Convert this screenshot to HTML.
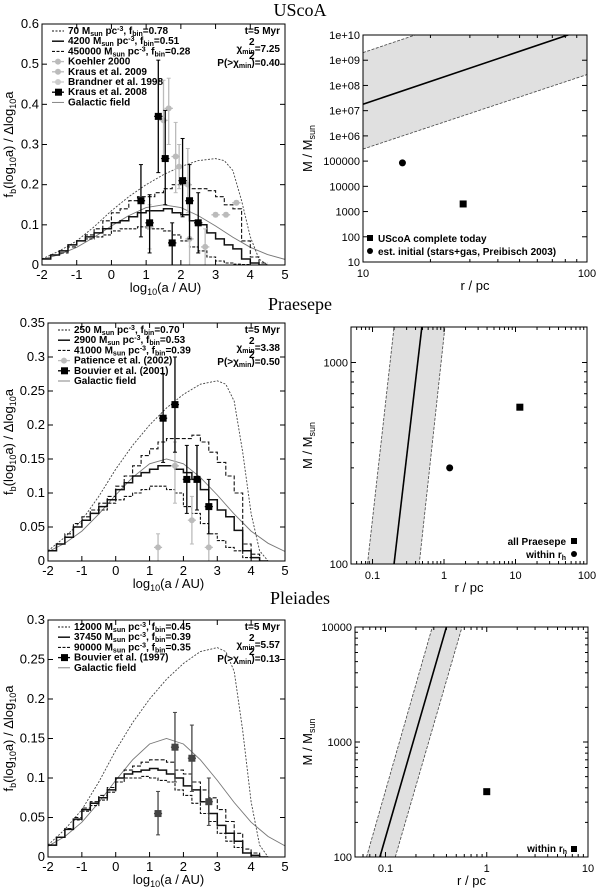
<!DOCTYPE html>
<html><head><meta charset="utf-8"><style>
html,body{margin:0;padding:0;background:#fff;}
svg{display:block;font-family:"Liberation Sans",sans-serif;}
.ttl{font-family:"Liberation Serif",serif;font-size:18px;}
.tk{font-size:13px;}
.tk2{font-size:11px;}
.lg{font-size:10px;font-weight:bold;}
.at{font-size:13px;}
</style></head><body>
<svg id="fig" width="600" height="888" viewBox="0 0 600 888">
<text class="ttl" x="300" y="16" text-anchor="middle">UScoA</text>
<text class="ttl" x="300" y="310" text-anchor="middle">Praesepe</text>
<text class="ttl" x="300" y="604" text-anchor="middle">Pleiades</text>
</svg>
<script>
// ---------- data ----------
const binStarts=[-2,-1.75,-1.5,-1.25,-1,-0.75,-0.5,-0.25,0,0.25,0.5,0.75,1,1.25,1.5,1.75,2,2.25,2.5,2.75,3,3.25,3.5,3.75,4,4.25];
const curveX=[-2,-1.5,-1,-0.5,0,0.5,1,1.5,2,2.5,3,3.25,3.5,3.75,4,4.25,4.5,5];
const initialCurve=[0.015,0.035,0.06,0.095,0.135,0.17,0.2,0.225,0.245,0.26,0.265,0.26,0.235,0.16,0.07,0.015,0,0];
const fieldX=[-2,-1.5,-1,-0.5,0,0.5,1,1.5,2,2.5,3,3.5,4,4.5,5];
const fieldCurve=[0.0137,0.026,0.044,0.069,0.097,0.123,0.143,0.15,0.143,0.123,0.097,0.069,0.044,0.026,0.014];
// UScoA
const usHiDens=[0.015,0.025,0.035,0.05,0.06,0.065,0.07,0.075,0.085,0.09,0.09,0.095,0.09,0.09,0.085,0.075,0.06,0.045,0.035,0.02,0.01,0.005,0.002,0.001,0,0];
const usMid=[0.015,0.025,0.035,0.05,0.06,0.07,0.08,0.09,0.105,0.11,0.12,0.13,0.135,0.135,0.14,0.13,0.125,0.11,0.1,0.08,0.065,0.05,0.04,0.015,0.005,0];
const usLow=[0.015,0.025,0.03,0.045,0.06,0.075,0.09,0.11,0.13,0.14,0.16,0.17,0.17,0.18,0.19,0.2,0.2,0.19,0.19,0.185,0.17,0.15,0.14,0.06,0.02,0.005];
const usK08X=[0.85,1.1,1.35,1.55,1.75,2.05,2.25,2.5];
const usK08Y=[0.16,0.105,0.37,0.265,0.055,0.21,0.16,0.105];
const usK08Hi=[0.25,0.175,0.51,0.385,0.105,0.315,0.25,0.18];
const usK08Lo=[0.07,0.03,0.23,0.15,0,0.12,0.065,0.03];
const usGreyX=[1.1,1.5,1.65,1.85,1.95,2.2,2.25,2.7,3.0,3.3,3.6];
const usGreyY=[0.095,0.36,0.39,0.27,0.245,0.2,0.065,0.045,0.125,0.125,0.155];
const usGreyHi=[0.15,0.46,0.465,0.355,0.3,0.29,0.13,0.09,0.13,0.13,0.16];
const usGreyLo=[0.04,0.26,0.3,0.18,0.19,0.13,0,0,0.12,0.12,0.15];
// Praesepe
const prHiDens=[0.015,0.025,0.035,0.05,0.06,0.07,0.075,0.085,0.09,0.095,0.1,0.105,0.11,0.11,0.105,0.1,0.08,0.07,0.055,0.04,0.03,0.02,0.015,0.005,0,0];
const prMid=[0.015,0.025,0.035,0.05,0.06,0.07,0.08,0.09,0.105,0.115,0.125,0.13,0.135,0.14,0.14,0.135,0.13,0.12,0.105,0.09,0.075,0.065,0.045,0.015,0.005,0];
const prLow=[0.015,0.025,0.04,0.055,0.065,0.075,0.085,0.095,0.11,0.125,0.14,0.155,0.165,0.175,0.18,0.18,0.18,0.185,0.175,0.16,0.145,0.125,0.1,0.025,0.01,0];
const prBX=[1.4,1.75,2.1,2.4,2.75];
const prBY=[0.21,0.23,0.12,0.12,0.08];
const prBHi=[0.275,0.3,0.17,0.17,0.12];
const prBLo=[0.145,0.16,0.07,0.075,0.04];
const prPX=[1.25,1.75,2.25,2.75];
const prPY=[0.02,0.14,0.06,0.02];
const prPHi=[0.04,0.175,0.095,0.04];
const prPLo=[0,0.085,0.025,0];
// Pleiades
const plHiDens=[0.015,0.025,0.035,0.047,0.058,0.065,0.072,0.082,0.095,0.1,0.1,0.102,0.1,0.097,0.095,0.085,0.078,0.068,0.055,0.045,0.03,0.02,0.012,0.005,0.002,0];
const plMid=[0.015,0.025,0.035,0.048,0.06,0.068,0.075,0.085,0.1,0.105,0.108,0.11,0.112,0.11,0.105,0.1,0.09,0.085,0.07,0.055,0.04,0.03,0.02,0.005,0.002,0];
const plLow=[0.015,0.025,0.036,0.05,0.062,0.07,0.078,0.088,0.1,0.11,0.115,0.12,0.123,0.123,0.12,0.11,0.105,0.095,0.085,0.075,0.06,0.045,0.03,0.01,0.005,0];
const plBX=[1.25,1.75,2.25,2.75];
const plBY=[0.055,0.139,0.125,0.07];
const plBHi=[0.083,0.183,0.167,0.1];
const plBLo=[0.028,0.095,0.083,0.04];
// right panels: line endpoints [r, M]
const usLineR=[10,100]; const usSolidM=[1.8e7,1.8e10]; const usUpM=[2e9,2e12]; const usDnM=[3e5,2.7e8];
const usSqR=[28]; const usSqM=[2000]; const usCiR=[15]; const usCiM=[85000];
const prSolidR=[0.2,0.49]; const prUpR=[0.085,0.2]; const prDnR=[0.45,1.03]; const prLineM=[100,1500];
const prSqR=[11.5]; const prSqM=[600]; const prCiR=[1.2]; const prCiM=[300];
const plSolidR=[0.088,0.4]; const plUpR=[0.065,0.29]; const plDnR=[0.125,0.57]; const plLineM=[100,10000];
const plSqR=[1]; const plSqM=[370];

// ---------- helpers ----------
const NS='http://www.w3.org/2000/svg';
const svg=document.getElementById('fig');
function el(tag,attrs,parent){const e=document.createElementNS(NS,tag);for(const k in attrs)e.setAttribute(k,attrs[k]);(parent||svg).appendChild(e);return e;}
function lin(d0,d1,p0,p1){return v=>p0+(v-d0)/(d1-d0)*(p1-p0);}
function lg(d0,d1,p0,p1){const a=Math.log10(d0),b=Math.log10(d1);return v=>p0+(Math.log10(v)-a)/(b-a)*(p1-p0);}
let clipN=0;
function clipFor(L,T,R,B){const id='c'+(clipN++);const cp=el('clipPath',{id:id});el('rect',{x:L,y:T,width:R-L,height:B-T},cp);return 'url(#'+id+')';}

function leftPanel(o){
  const X=lin(-2,5,o.L,o.R), Y=lin(0,o.ymax,o.B,o.T);
  const g=el('g',{});
  
  
  const cg=el('g',{'clip-path':clipFor(o.L,o.T,o.R,o.B)},g);
  let d='';fieldX.forEach((x,i)=>{d+=(i?'L':'M')+X(x).toFixed(1)+','+Y(fieldCurve[i]).toFixed(1);});
  const fc=el('path',{d:d,fill:'none',stroke:'#777','stroke-width':0.9},cg);
  
  
  d='';curveX.forEach((x,i)=>{d+=(i?'L':'M')+X(x).toFixed(1)+','+Y(initialCurve[i]).toFixed(1);});
  const ic=el('path',{d:d,fill:'none',stroke:'#444','stroke-width':0.9,'stroke-dasharray':'2,1.5'},cg);
  
  
  function hist(vals,dash,w,nm){
    let d='M'+X(binStarts[0])+','+Y(vals[0]);
    binStarts.forEach((b,i)=>{d+='H'+X(b+0.25).toFixed(1);if(i+1<vals.length)d+='V'+Y(vals[i+1]).toFixed(1);});
    const p=el('path',{d:d,fill:'none',stroke:'#111','stroke-width':w,'stroke-dasharray':dash},cg);
    
    
  }
  hist(o.low,'3,1.5',1.1,'histogram-low-density');
  hist(o.hi,'4,2',1.1,'histogram-high-density');
  hist(o.mid,'',1.5,'histogram-best-fit');
  function pts(xs,ys,his,los,col,shape,nm){
    xs.forEach((x,i)=>{
      const px=X(x),py=Y(ys[i]);
      const gg=el('g',{stroke:col,fill:col},cg);
      
      
      el('line',{x1:px,x2:px,y1:Y(his[i]),y2:Y(los[i]),'stroke-width':1.3},gg);
      el('line',{x1:px-2,x2:px+2,y1:Y(his[i]),y2:Y(his[i]),'stroke-width':1},gg);
      el('line',{x1:px-2,x2:px+2,y1:Y(los[i]),y2:Y(los[i]),'stroke-width':1},gg);
      el('line',{x1:X(x-0.12),x2:X(x+0.12),y1:py,y2:py,'stroke-width':1.3},gg);
      if(shape==='sq')el('rect',{x:px-3.5,y:py-3.5,width:7,height:7,stroke:'none'},gg);
      else el('circle',{cx:px,cy:py,r:3,stroke:'none'},gg);
    });
  }
  o.points.forEach(p=>pts(p.x,p.y,p.hi,p.lo,p.col,p.shape,p.name));
  el('rect',{x:o.L,y:o.T,width:o.R-o.L,height:o.B-o.T,fill:'none',stroke:'#000','stroke-width':1},g);
  for(let v=-2;v<=5;v++){const px=X(v);
    el('line',{x1:px,x2:px,y1:o.B,y2:o.B-5,stroke:'#000'},g);el('line',{x1:px,x2:px,y1:o.T,y2:o.T+5,stroke:'#000'},g);
    const t=el('text',{x:px,y:o.B+14,'text-anchor':'middle',class:'tk'},g);t.textContent=v;
    
    }
  o.yt.forEach(v=>{const py=Y(v);
    el('line',{x1:o.L,x2:o.L+5,y1:py,y2:py,stroke:'#000'},g);el('line',{x1:o.R,x2:o.R-5,y1:py,y2:py,stroke:'#000'},g);
    const t=el('text',{x:o.L-3,y:py+4,'text-anchor':'end',class:'tk'},g);t.textContent=v;
    
    });
  const xt=el('text',{x:(o.L+o.R)/2+2,y:o.B+27,'text-anchor':'middle',class:'at'},g);
  xt.innerHTML='log<tspan font-size="9" dy="3">10</tspan><tspan dy="-3">(a / AU)</tspan>';
  
  
  const yt=el('text',{transform:'translate(13,'+((o.T+o.B)/2)+') rotate(-90)','text-anchor':'middle',class:'at'},g);
  yt.innerHTML='f<tspan font-size="9" dy="3">b</tspan><tspan dy="-3">(log</tspan><tspan font-size="9" dy="3">10</tspan><tspan dy="-3">a) / Δlog</tspan><tspan font-size="9" dy="3">10</tspan><tspan dy="-3">a</tspan>';
  
  
  o.legend.forEach((e,i)=>{const ly=o.T+10+i*10.2;
    const lgG=el('g',{},g);
    
    
    if(e.type==='line')el('line',{x1:o.L+10,x2:o.L+22,y1:ly-3,y2:ly-3,stroke:e.col,'stroke-width':e.w,'stroke-dasharray':e.dash},lgG);
    else{el('line',{x1:o.L+10,x2:o.L+22,y1:ly-3,y2:ly-3,stroke:e.col,'stroke-width':1.3},lgG);
      if(e.type==='sq')el('rect',{x:o.L+13,y:ly-6.5,width:7,height:7,fill:e.col},lgG);else el('circle',{cx:o.L+16,cy:ly-3,r:3,fill:e.col},lgG);}
    const t=el('text',{x:o.L+26,y:ly,class:'lg'},lgG);t.innerHTML=e.t;});
  const a1=el('text',{x:o.R-5,y:o.T+10,'text-anchor':'end',class:'lg'},g);a1.textContent=o.age||'';
  const a2=el('text',{x:o.R-5,y:o.T+28,'text-anchor':'end',class:'lg'},g);a2.innerHTML='χ<tspan font-size="7" dy="2">min</tspan><tspan dy="-2">='+o.chi+'</tspan>';
  const a3=el('text',{x:o.R-5,y:o.T+42,'text-anchor':'end',class:'lg'},g);a3.innerHTML='P(&gt;χ<tspan font-size="7" dy="2">min</tspan><tspan dy="-2">)='+o.p+'</tspan>';
  el('text',{x:o.R-36,y:o.T+21,class:'lg','font-size':'7'},g).textContent='2';
  el('text',{x:o.R-36,y:o.T+35,class:'lg','font-size':'7'},g).textContent='2';
}
function ms(n){return n+' M<tspan font-size="7" dy="2">sun</tspan><tspan dy="-2"> pc</tspan><tspan font-size="7" dy="-3">-3</tspan><tspan dy="3">, f</tspan><tspan font-size="7" dy="2">bin</tspan><tspan dy="-2">';}

leftPanel({name:'uscoa',L:42,R:285,T:24,B:265,ymax:0.6,yt:[0,0.1,0.2,0.3,0.4,0.5,0.6],age:'t=5 Myr',chi:'7.25',p:'0.40',
  hi:usLow,mid:usMid,low:usHiDens,
  points:[{x:usGreyX,y:usGreyY,hi:usGreyHi,lo:usGreyLo,col:'#bbb',shape:'ci',name:'grey-data'},
          {x:usK08X,y:usK08Y,hi:usK08Hi,lo:usK08Lo,col:'#000',shape:'sq',name:'kraus-2008'}],
  legend:[{type:'line',col:'#111',w:1.1,dash:'2,1.5',t:ms('70')+'=0.78</tspan>'},
          {type:'line',col:'#111',w:1.5,dash:'',t:ms('4200')+'=0.51</tspan>'},
          {type:'line',col:'#111',w:1.1,dash:'3,1.5',t:ms('450000')+'=0.28</tspan>'},
          {type:'ci',col:'#bbb',t:'Koehler 2000'},{type:'ci',col:'#bbb',t:'Kraus et al. 2009'},
          {type:'ci',col:'#ccc',t:'Brandner et al. 1998'},{type:'sq',col:'#000',t:'Kraus et al. 2008'},
          {type:'line',col:'#777',w:0.9,dash:'',t:'Galactic field'}]});
leftPanel({name:'praesepe',L:48,R:285,T:323,B:561,ymax:0.35,yt:[0,0.05,0.1,0.15,0.2,0.25,0.3,0.35],age:'t=5 Myr',chi:'3.38',p:'0.50',
  hi:prLow,mid:prMid,low:prHiDens,
  points:[{x:prPX,y:prPY,hi:prPHi,lo:prPLo,col:'#bbb',shape:'ci',name:'patience-2002'},
          {x:prBX,y:prBY,hi:prBHi,lo:prBLo,col:'#000',shape:'sq',name:'bouvier-2001'}],
  legend:[{type:'line',col:'#111',w:1.1,dash:'2,1.5',t:ms('250')+'=0.70</tspan>'},
          {type:'line',col:'#111',w:1.5,dash:'',t:ms('2900')+'=0.53</tspan>'},
          {type:'line',col:'#111',w:1.1,dash:'3,1.5',t:ms('41000')+'=0.39</tspan>'},
          {type:'ci',col:'#bbb',t:'Patience et al. (2002)'},{type:'sq',col:'#000',t:'Bouvier et al. (2001)'},
          {type:'line',col:'#777',w:0.9,dash:'',t:'Galactic field'}]});
leftPanel({name:'pleiades',L:48,R:285,T:620,B:857,ymax:0.3,yt:[0,0.05,0.1,0.15,0.2,0.25,0.3],age:'t=5 Myr',chi:'5.57',p:'0.13',
  hi:plLow,mid:plMid,low:plHiDens,
  points:[{x:plBX,y:plBY,hi:plBHi,lo:plBLo,col:'#444',shape:'sq',name:'bouvier-1997'}],
  legend:[{type:'line',col:'#111',w:1.1,dash:'2,1.5',t:ms('12000')+'=0.45</tspan>'},
          {type:'line',col:'#111',w:1.5,dash:'',t:ms('37450')+'=0.39</tspan>'},
          {type:'line',col:'#111',w:1.1,dash:'3,1.5',t:ms('90000')+'=0.35</tspan>'},
          {type:'sq',col:'#000',t:'Bouvier et al. (1997)'},
          {type:'line',col:'#777',w:0.9,dash:'',t:'Galactic field'}]});

function rightPanel(o){
  const X=lg(o.xmin,o.xmax,o.L,o.R), Y=lg(o.ymin,o.ymax,o.B,o.T);
  const g=el('g',{});
  
  
  const cg=el('g',{'clip-path':clipFor(o.L,o.T,o.R,o.B)},g);
  const up=o.up, dn=o.dn, so=o.solid;
  const poly=[[X(up[0][0]),Y(up[0][1])],[X(up[1][0]),Y(up[1][1])],[X(dn[1][0]),Y(dn[1][1])],[X(dn[0][0]),Y(dn[0][1])]];
  const band=el('polygon',{points:poly.map(p=>p.join(',')).join(' '),fill:'#e0e0e0',stroke:'none'},cg);
  
  
  [[up,'upper-bound-line','3,1.5',0.8,'#444'],[dn,'lower-bound-line','3,1.5',0.8,'#444'],[so,'best-fit-line','',1.6,'#000']].forEach(a=>{
    const l=el('line',{x1:X(a[0][0][0]),y1:Y(a[0][0][1]),x2:X(a[0][1][0]),y2:Y(a[0][1][1]),stroke:a[4],'stroke-width':a[3],'stroke-dasharray':a[2]},cg);
    
    });
  o.sq.forEach(p=>{const r=el('rect',{x:X(p[0])-3.5,y:Y(p[1])-3.5,width:7,height:7,fill:'#000'},g);
    
    });
  o.ci.forEach(p=>{const c=el('circle',{cx:X(p[0]),cy:Y(p[1]),r:3.5,fill:'#000'},g);
    
    });
  el('rect',{x:o.L,y:o.T,width:o.R-o.L,height:o.B-o.T,fill:'none',stroke:'#000'},g);
  for(let e=Math.floor(Math.log10(o.xmin));e<=Math.log10(o.xmax);e++){for(let m=1;m<10;m++){const v=m*Math.pow(10,e);if(v<o.xmin*0.999||v>o.xmax*1.001)continue;const px=X(v),len=m===1?5:3;
    el('line',{x1:px,x2:px,y1:o.B,y2:o.B-len,stroke:'#000'},g);el('line',{x1:px,x2:px,y1:o.T,y2:o.T+len,stroke:'#000'},g);
    if(m===1){const t=el('text',{x:px,y:o.B+15,'text-anchor':'middle',class:'tk2'},g);t.textContent=v<1?v.toFixed(1):v;
      
      }}}
  for(let e=Math.floor(Math.log10(o.ymin));e<=Math.log10(o.ymax)+0.001;e++){for(let m=1;m<10;m++){const v=m*Math.pow(10,e);if(v<o.ymin*0.999||v>o.ymax*1.001)continue;const py=Y(v),len=m===1?5:3;
    if(o.minorY||m===1){el('line',{x1:o.L,x2:o.L+len,y1:py,y2:py,stroke:'#000'},g);el('line',{x1:o.R,x2:o.R-len,y1:py,y2:py,stroke:'#000'},g);}
    if(m===1){const t=el('text',{x:o.L-3,y:py+4,'text-anchor':'end',class:'tk2'},g);t.textContent=o.fmt(e);
      
      }}}
  const xt=el('text',{x:(o.L+o.R)/2,y:o.B+28,'text-anchor':'middle',class:'at','font-size':'12'},g);xt.textContent='r / pc';
  
  
  const yt=el('text',{transform:'translate(312,'+((o.T+o.B)/2)+') rotate(-90)','text-anchor':'middle',class:'at'},g);
  yt.innerHTML='M / M<tspan font-size="9" dy="3">sun</tspan>';
  
  
  o.legend(g);
}
rightPanel({name:'uscoa',L:363,R:587,T:35,B:262,xmin:10,xmax:100,ymin:10,ymax:1e10,minorY:false,
  fmt:e=>e>=6?'1e+'+(e<10?'0':'')+e:String(Math.pow(10,e)),
  solid:[[usLineR[0],usSolidM[0]],[usLineR[1],usSolidM[1]]],up:[[usLineR[0],usUpM[0]],[usLineR[1],usUpM[1]]],dn:[[usLineR[0],usDnM[0]],[usLineR[1],usDnM[1]]],
  sq:usSqR.map((r,i)=>[r,usSqM[i]]),ci:usCiR.map((r,i)=>[r,usCiM[i]]),
  legend:g=>{el('rect',{x:367,y:235,width:6,height:6,fill:'#000'},g);el('circle',{cx:370,cy:251,r:3,fill:'#000'},g);
    el('text',{x:378,y:242,class:'lg','font-size':'10'},g).textContent='UScoA complete today';
    el('text',{x:378,y:255,class:'lg','font-size':'10'},g).textContent='est. initial (stars+gas, Preibisch 2003)';}});
rightPanel({name:'praesepe',L:351,R:587,T:327,B:564,xmin:0.05,xmax:100,ymin:100,ymax:1500,minorY:true,
  fmt:e=>String(Math.pow(10,e)),
  solid:[[prSolidR[0],prLineM[0]],[prSolidR[1],prLineM[1]]],up:[[prUpR[0],prLineM[0]],[prUpR[1],prLineM[1]]],dn:[[prDnR[0],prLineM[0]],[prDnR[1],prLineM[1]]],
  sq:prSqR.map((r,i)=>[r,prSqM[i]]),ci:prCiR.map((r,i)=>[r,prCiM[i]]),
  legend:g=>{el('text',{x:566,y:545,'text-anchor':'end',class:'lg','font-size':'10'},g).textContent='all Praesepe';
    el('rect',{x:571,y:538,width:6,height:6,fill:'#000'},g);
    const t=el('text',{x:566,y:558,'text-anchor':'end',class:'lg','font-size':'10'},g);t.innerHTML='within r<tspan font-size="7" dy="2">h</tspan>';
    el('circle',{cx:574,cy:554,r:3,fill:'#000'},g);}});
rightPanel({name:'pleiades',L:355,R:588,T:627,B:857,xmin:0.05,xmax:10,ymin:100,ymax:10000,minorY:true,
  fmt:e=>String(Math.pow(10,e)),
  solid:[[plSolidR[0],plLineM[0]],[plSolidR[1],plLineM[1]]],up:[[plUpR[0],plLineM[0]],[plUpR[1],plLineM[1]]],dn:[[plDnR[0],plLineM[0]],[plDnR[1],plLineM[1]]],
  sq:plSqR.map((r,i)=>[r,plSqM[i]]),ci:[],
  legend:g=>{const t=el('text',{x:567,y:852,'text-anchor':'end',class:'lg','font-size':'10'},g);t.innerHTML='within r<tspan font-size="7" dy="2">h</tspan>';
    el('rect',{x:571,y:846,width:6,height:6,fill:'#000'},g);}});
</script>
</body></html>
